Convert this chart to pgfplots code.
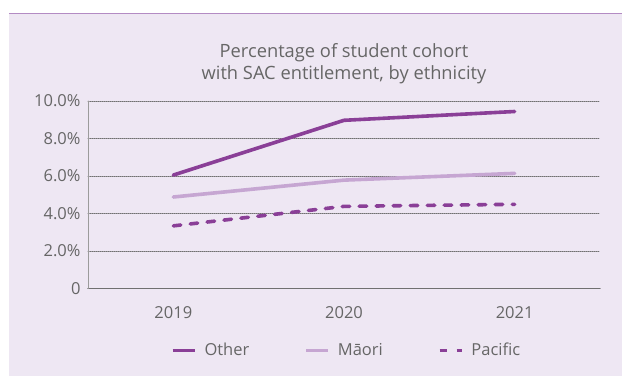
\documentclass[border=0pt]{standalone}
\usepackage{fontspec}
\setmainfont{Open Sans}
\usepackage{pgfplots}
\pgfplotsset{compat=1.18}
\definecolor{bg}{HTML}{EEE7F3}
\definecolor{topline}{HTML}{B38BC3}
\definecolor{other}{HTML}{8A3F97}
\definecolor{maori}{HTML}{C6A6D2}
\definecolor{txt}{HTML}{666666}
\definecolor{gridc}{HTML}{707070}
\begin{document}
\begin{tikzpicture}[x=1pt,y=1pt]
\useasboundingbox (0,0) rectangle (622,376);
\fill[white] (0,0) rectangle (622,376);
\fill[bg] (9,0) rectangle (622,362);
\draw[topline, line width=1.4pt] (9,362.3) -- (622,362.3);
\node[anchor=base, text=txt, font=\fontsize{18.3}{22}\selectfont] at (344,318.5) {Percentage of student cohort};
\node[anchor=base, text=txt, font=\fontsize{18.3}{22}\selectfont] at (344,297) {with SAC entitlement, by ethnicity};
\begin{axis}[
  at={(88pt,87.5pt)}, anchor=south west,
  scale only axis, width=512pt, height=187.5pt,
  xmin=-0.5, xmax=2.5, ymin=0, ymax=10,
  xtick={0,1,2}, xticklabels={2019,2020,2021},
  ytick={0,2,4,6,8,10},
  yticklabels={0,2.0\%,4.0\%,6.0\%,8.0\%,10.0\%},
  major tick length=0pt,
  axis x line*=bottom, axis y line*=left,
  x axis line style={gridc, line width=1.5pt, -},
  y axis line style={color=gridc!70, line width=0.8pt, -},
  ymajorgrids,
  major grid style={gridc, line width=0.6pt, dash pattern=on 1pt off 1pt},
  ticklabel style={text=txt, font=\fontsize{16.5}{20}\selectfont},
  yticklabel style={xshift=-4pt},
  xticklabel style={yshift=-14pt},
  legend columns=3,
  legend style={draw=none, fill=none, at={(0.505,-0.33)}, anchor=center,
    text=txt, font=\fontsize{16.5}{20}\selectfont,
    /tikz/every odd column/.append style={column sep=6pt},
    /tikz/every even column/.append style={column sep=53pt}},
  legend image code/.code={\draw[#1] (0pt,0pt) -- (22pt,0pt);},
  line cap=round,
]
\addplot[other, line width=3.6pt] coordinates {(0,6.05) (1,8.97) (2,9.44)};
\addlegendentry{Other}
\addplot[maori, line width=3.6pt] coordinates {(0,4.88) (1,5.78) (2,6.14)};
\addlegendentry{Māori}
\addplot[other, line width=3.6pt, dash pattern=on 7.5pt off 9.5pt] coordinates {(0,3.34) (1,4.38) (2,4.49)};
\addlegendentry{Pacific}
\end{axis}
\end{tikzpicture}
\end{document}
